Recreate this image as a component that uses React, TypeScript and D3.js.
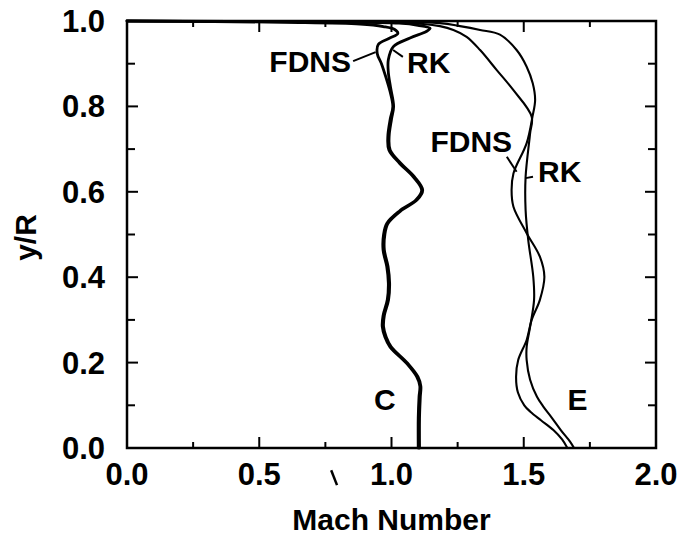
import * as React from 'react';
import * as d3 from 'd3';

// [y/R, Mach] pairs, from the centreline to the wall
const cFdns: [number, number][] = [
  [0.000, 1.101], [0.070, 1.101], [0.120, 1.104], [0.145, 1.107], [0.167, 1.095], [0.198, 1.057],
  [0.237, 0.994], [0.260, 0.975], [0.284, 0.965], [0.310, 0.968], [0.347, 0.984], [0.386, 0.988],
  [0.425, 0.982], [0.464, 0.968], [0.500, 0.970], [0.526, 0.982], [0.555, 1.030], [0.581, 1.092],
  [0.604, 1.114], [0.635, 1.082], [0.667, 1.030], [0.698, 0.990], [0.729, 0.986], [0.770, 0.995],
  [0.800, 1.005], [0.836, 0.994], [0.870, 0.978], [0.900, 0.962], [0.924, 0.946], [0.945, 0.950],
  [0.959, 0.990], [0.971, 1.024], [0.980, 1.012], [0.987, 0.969], [0.993, 0.881], [0.997, 0.600],
  [1.000, 0.000],
];

const cRk: [number, number][] = [
  [0.000, 1.106], [0.070, 1.106], [0.120, 1.109], [0.145, 1.111], [0.167, 1.100], [0.198, 1.062],
  [0.237, 0.999], [0.260, 0.980], [0.284, 0.970], [0.310, 0.973], [0.347, 0.989], [0.386, 0.993],
  [0.425, 0.987], [0.464, 0.973], [0.500, 0.975], [0.526, 0.987], [0.555, 1.035], [0.581, 1.097],
  [0.604, 1.118], [0.635, 1.087], [0.667, 1.035], [0.698, 0.995], [0.729, 0.991], [0.770, 1.000],
  [0.800, 1.008], [0.846, 0.996], [0.880, 0.988], [0.909, 0.988], [0.940, 1.007], [0.960, 1.070],
  [0.976, 1.133], [0.983, 1.146], [0.990, 1.100], [0.995, 1.030], [0.998, 0.700], [1.000, 0.000],
];

const eFdns: [number, number][] = [
  [0.000, 1.665], [0.020, 1.645], [0.042, 1.612], [0.065, 1.565], [0.085, 1.525], [0.100, 1.502],
  [0.130, 1.478], [0.167, 1.471], [0.206, 1.479], [0.253, 1.511], [0.300, 1.530], [0.347, 1.561],
  [0.401, 1.578], [0.448, 1.561], [0.503, 1.511], [0.565, 1.461], [0.604, 1.454], [0.643, 1.461],
  [0.714, 1.511], [0.776, 1.533], [0.815, 1.543], [0.854, 1.534], [0.893, 1.511], [0.932, 1.473],
  [0.968, 1.410], [0.979, 1.335], [0.988, 1.259], [0.995, 1.183], [0.998, 0.900], [1.000, 0.000],
];

const eRk: [number, number][] = [
  [0.000, 1.690], [0.015, 1.675], [0.042, 1.640], [0.070, 1.607], [0.097, 1.574], [0.120, 1.550],
  [0.160, 1.524], [0.206, 1.511], [0.237, 1.511], [0.284, 1.524], [0.347, 1.539], [0.401, 1.536],
  [0.487, 1.517], [0.557, 1.507], [0.635, 1.507], [0.737, 1.524], [0.776, 1.530], [0.838, 1.461],
  [0.885, 1.398], [0.932, 1.335], [0.963, 1.284], [0.979, 1.234], [0.988, 1.183], [0.993, 1.120],
  [0.998, 0.800], [1.000, 0.000],
];

const xTickLabels = ['0.0', '0.5', '1.0', '1.5', '2.0'];
const yTickLabels = ['0.0', '0.2', '0.4', '0.6', '0.8', '1.0'];

const width = 695;
const height = 535;
const margin = { top: 21, right: 39, bottom: 87, left: 127 };
const font = '"Liberation Sans", Arial, Helvetica, sans-serif';

const App: React.FC = () => {
  const x = d3.scaleLinear().domain([0, 2]).range([margin.left, width - margin.right]);
  const y = d3.scaleLinear().domain([0, 1]).range([height - margin.bottom, margin.top]);

  const line = d3.line<[number, number]>()
    .x(d => x(d[1]))
    .y(d => y(d[0]))
    .curve(d3.curveCatmullRom.alpha(0.5));

  const x0 = x(0), x1 = x(2), y0 = y(0), y1 = y(1);
  const xTicks = d3.range(0, 2.001, 0.25);
  const yTicks = d3.range(0, 1.001, 0.1);

  const labelStyle = { fontFamily: font, fontWeight: 700, fontSize: 30, fill: '#000' } as const;
  const tickStyle = { ...labelStyle, fontSize: 31 };

  return (
    <svg width={width} height={height} style={{ position: 'absolute', left: 0, top: 0, background: '#fff' }}>
      {/* curves */}
      <g fill="none" stroke="#000" strokeLinejoin="round" strokeLinecap="round">
        <path d={line(cFdns) || ''} strokeWidth={2.8} />
        <path d={line(cRk) || ''} strokeWidth={2.8} />
        <path d={line(eFdns) || ''} strokeWidth={2.1} />
        <path d={line(eRk) || ''} strokeWidth={2.1} />
      </g>

      {/* frame and ticks */}
      <rect x={x0} y={y1} width={x1 - x0} height={y0 - y1} fill="none" stroke="#000" strokeWidth={2.5} />
      <g stroke="#000" strokeWidth={2}>
        {xTicks.map((t, i) => {
          const len = i % 2 === 0 ? 11 : 6;
          return (
            <g key={'xt' + i}>
              <line x1={x(t)} x2={x(t)} y1={y0} y2={y0 - len} />
              <line x1={x(t)} x2={x(t)} y1={y1} y2={y1 + len} />
            </g>
          );
        })}
        {yTicks.map((t, i) => {
          const len = i % 2 === 0 ? 11 : 8;
          return (
            <g key={'yt' + i}>
              <line x1={x0} x2={x0 + len} y1={y(t)} y2={y(t)} />
              <line x1={x1} x2={x1 - len} y1={y(t)} y2={y(t)} />
            </g>
          );
        })}
      </g>

      {/* tick labels */}
      {xTickLabels.map(s => (
        <text key={'xl' + s} x={x(+s)} y={y0 + 37} textAnchor="middle" style={tickStyle}>{s}</text>
      ))}
      {yTickLabels.map(s => (
        <text key={'yl' + s} x={x0 - 22} y={y(+s) + 11} textAnchor="end" style={tickStyle}>{s}</text>
      ))}

      {/* axis titles */}
      <text x={(x0 + x1) / 2} y={height - 5} textAnchor="middle" style={labelStyle}>Mach Number</text>
      <text transform={`translate(36,${(y0 + y1) / 2 + 3}) rotate(-90)`} textAnchor="middle" style={labelStyle}>y/R</text>

      {/* curve labels and leaders */}
      <g stroke="#000" strokeWidth={2}>
        <line x1={x(0.855)} y1={y(0.906)} x2={x(0.94)} y2={y(0.927)} />
        <line x1={x(1.006)} y1={y(0.932)} x2={x(1.043)} y2={y(0.916)} />
        <line x1={x(1.436)} y1={y(0.682)} x2={x(1.473)} y2={y(0.647)} />
        <line x1={x(1.507)} y1={y(0.632)} x2={x(1.535)} y2={y(0.635)} />
        {/* stray scan mark under the axis */}
        <line x1={x(0.772)} y1={y(-0.052)} x2={x(0.794)} y2={y(-0.087)} strokeWidth={2.5} />
      </g>
      <text x={x(0.847)} y={y(0.8806)} textAnchor="end" style={labelStyle}>FDNS</text>
      <text x={x(1.059)} y={y(0.878)} style={labelStyle}>RK</text>
      <text x={x(1.456)} y={y(0.693)} textAnchor="end" style={labelStyle}>FDNS</text>
      <text x={x(1.554)} y={y(0.623)} style={labelStyle}>RK</text>
      <text x={x(0.975)} y={y(0.089)} textAnchor="middle" style={labelStyle}>C</text>
      <text x={x(1.703)} y={y(0.089)} textAnchor="middle" style={labelStyle}>E</text>
    </svg>
  );
};

export default App;
